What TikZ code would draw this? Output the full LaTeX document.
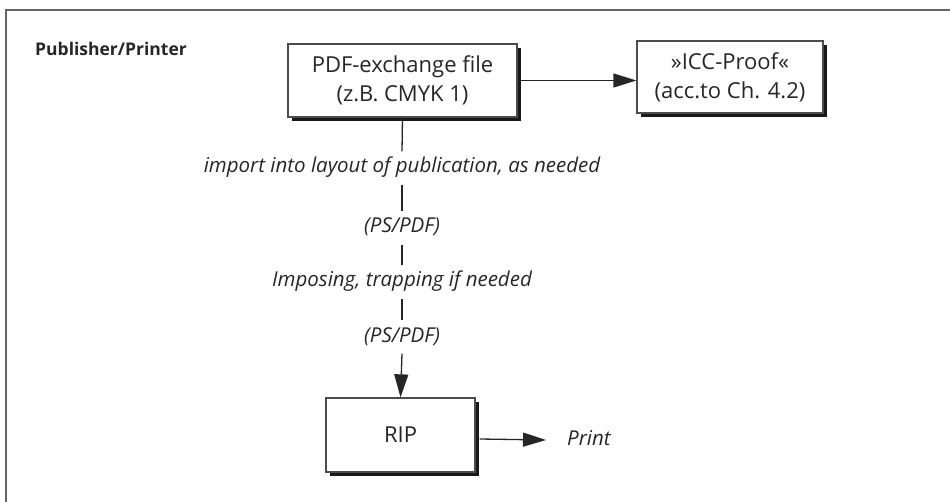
\documentclass[tikz,border=0pt]{standalone}
\usepackage{fontspec}
\setmainfont{Open Sans}
\usetikzlibrary{arrows.meta}
\usetikzlibrary{shadows}

\tikzset{
  flowbox/.style={draw=black!70, line width=1.3pt, fill=white, text=black!85,
    align=center, inner sep=0pt, font=\fontsize{22}{29}\selectfont,
    drop shadow={shadow xshift=4pt, shadow yshift=-4pt, opacity=1, fill=black!90}},
  lbl/.style={text=black!85, inner xsep=2pt, inner ysep=6.5pt, text height=15pt,
    text depth=5pt, font=\fontsize{20.5}{24}\selectfont\itshape},
  conn/.style={line width=1.3pt, black!85},
  flowarrow/.style={conn, -{Triangle[length=23pt,width=14pt]}},
  frame/.style={line width=2.2pt, black!60}
}

\begin{document}
\begin{tikzpicture}[x=1pt, y=-1pt]
\useasboundingbox (0,0) rectangle (950,502);
\draw[frame] (6,502) -- (6,10) -- (950,10);

\node[anchor=base west, inner sep=0pt, text=black!85,
  font=\fontsize{17.5}{20}\selectfont\bfseries] (party) at (35,56) {Publisher/Printer};

% boxes
\node[flowbox, minimum width=229pt, minimum height=73pt] (pdffile) at (402.5,80.5)
  {PDF-exchange file\\(z.B. CMYK 1)};
\node[flowbox, minimum width=186pt, minimum height=72pt] (iccproof) at (730,77)
  {»ICC-Proof«\\(acc.to Ch. 4.2)};
\node[flowbox, minimum width=149pt, minimum height=74pt] (rip) at (400.5,435) {RIP};

% labels on the way down
\node[lbl] (import) at (402,168) {import into layout of publication, as needed};
\node[lbl] (psa) at (402,228) {(PS/PDF)};
\node[lbl] (impose) at (402,282) {Imposing, trapping if needed};
\node[lbl] (psb) at (402,337) {(PS/PDF)};
\node[lbl, anchor=west, inner xsep=21pt] (print) at (546,440) {Print};

\draw[flowarrow] (pdffile.east) -- (pdffile.east -| iccproof.west);
\draw[conn] (pdffile.south) -- (import.north);
\draw[conn] (import.south) -- (psa.north);
\draw[conn] (psa.south) -- (impose.north);
\draw[conn] (impose.south) -- (psb.north);
\draw[flowarrow] (psb.south) -- (rip.north);
\draw[flowarrow] ([xshift=4pt,yshift=-4pt]rip.east) -- (print.west);
\end{tikzpicture}
\end{document}
